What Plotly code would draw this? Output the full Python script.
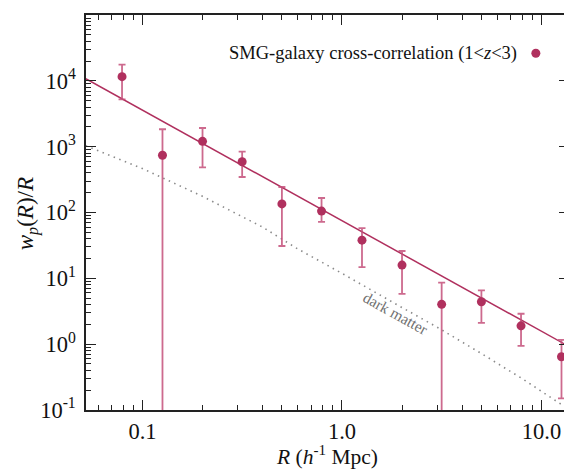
import plotly.graph_objects as go

# Measured cross-correlation
R = [0.079, 0.126, 0.2, 0.316, 0.5, 0.79, 1.26, 2.0, 3.16, 5.0, 7.9, 12.6]
wpR = [11560, 740, 1205, 591, 135, 105, 38, 15.9, 4.03, 4.41, 1.9, 0.644]
wpR_hi = [17600, 1840, 1920, 840, 244, 166, 58, 26, 8.6, 6.58, 2.9, 1.16]
wpR_lo = [5240, 0.001, 485, 346, 31, 72, 14.8, 5.8, 0.001, 2.1, 0.94, 0.15]

# Power-law fit (end points)
fit_R = [0.052, 13.75]
fit_w = [10760, 0.92]

# Dark matter model
dm_R = [0.052, 0.1, 0.2, 0.4, 0.6, 1.0, 2.0, 3.07, 5.0, 8.0, 13.1, 13.75]
dm_w = [1030, 465, 176, 60, 28, 11.9, 3.6, 1.74, 0.72, 0.30, 0.112, 0.102]

y_tickvals = [0.1, 1, 10, 100, 1000, 10000, 100000]
y_ticktext = ["10<sup>-1</sup>", "10<sup>0</sup>", "10<sup>1</sup>", "10<sup>2</sup>",
              "10<sup>3</sup>", "10<sup>4</sup>", "10<sup>5</sup>"]
x_tickvals = [0.1, 1.0, 10.0]
x_ticktext = ["0.1", "1.0", "10.0"]

MAIN = "#B0305E"
ERR = "rgba(196,80,122,0.85)"
FONT = "Liberation Serif"

err_plus = [h - v for h, v in zip(wpR_hi, wpR)]
err_minus = [v - l for v, l in zip(wpR, wpR_lo)]

# page body has an 8px margin: the figure is drawn at (8, 8)
OFF = 8
PL, PT, PW, PH = 86 - OFF, 15 - OFF, 485, 395
W, H = 572 - OFF, 469 - OFF

fig = go.Figure()
fig.add_trace(go.Scatter(x=dm_R, y=dm_w, mode="lines",
                         line=dict(color="#8a8a8a", width=1.6, dash="1.5px,4.5px"),
                         showlegend=False, hoverinfo="skip"))
fig.add_trace(go.Scatter(x=fit_R, y=fit_w, mode="lines",
                         line=dict(color=MAIN, width=1.5),
                         showlegend=False, hoverinfo="skip"))
fig.add_trace(go.Scatter(x=R, y=wpR, mode="markers",
                         marker=dict(color=MAIN, size=9),
                         error_y=dict(type="data", symmetric=False, array=err_plus,
                                      arrayminus=err_minus, color=ERR,
                                      thickness=1.8, width=3.5),
                         showlegend=False))

fig.add_annotation(x=0.271, y=0.47, xref="x", yref="y", text="dark matter",
                   showarrow=False, textangle=29,
                   font=dict(family=FONT, size=15.5, color="#707070"))

fig.add_annotation(x=(521 - 86) / PW, y=(410 - 53.5) / PH, xref="paper", yref="paper",
                   xanchor="right", yanchor="middle",
                   text="SMG-galaxy cross-correlation (1&lt;<i>z</i>&lt;3)",
                   showarrow=False, font=dict(family=FONT, size=18.5, color="#111111"))
fig.add_shape(type="circle", xref="paper", yref="paper",
              xsizemode="pixel", ysizemode="pixel",
              xanchor=(537.7 - 86) / PW, yanchor=(410 - 53.3) / PH,
              x0=-4.5, x1=4.5, y0=-4.5, y1=4.5,
              fillcolor=MAIN, line=dict(width=0))

# y-axis title placed explicitly, centred on the plot height
fig.add_annotation(x=(27 - 86) / PW, y=(410 - 214) / PH, xref="paper", yref="paper",
                   xanchor="center", yanchor="middle", textangle=-90,
                   text="<i>w<sub>p</sub></i>(<i>R</i>)/<i>R</i>",
                   showarrow=False, font=dict(family=FONT, size=23, color="#111111"))

axis_common = dict(showgrid=False, zeroline=False, showline=True, linecolor="#222222",
                   linewidth=1.5, mirror="allticks", ticks="inside", ticklen=10,
                   tickwidth=1.2, tickcolor="#222222",
                   tickfont=dict(family=FONT, size=22.5, color="#111111"))

fig.update_xaxes(type="log", range=[-1.283, 1.138], tickvals=x_tickvals, ticktext=x_ticktext,
                 minor=dict(ticks="inside", ticklen=5, tickwidth=1.2, tickcolor="#222222",
                            dtick="D1"),
                 title=dict(text="<i>R</i> (<i>h</i><sup>-1</sup> Mpc)",
                            font=dict(family=FONT, size=21.5, color="#111111"), standoff=0),
                 **axis_common)
fig.update_yaxes(type="log", range=[-1, 5], tickvals=y_tickvals, ticktext=y_ticktext,
                 minor=dict(ticks="inside", ticklen=5, tickwidth=1.2, tickcolor="#222222",
                            dtick="D1"),
                 ticklabelstandoff=4,
                 **axis_common)

fig.update_layout(width=W, height=H,
                  margin=dict(l=PL, r=W - PL - PW, t=PT, b=H - PT - PH),
                  paper_bgcolor="white", plot_bgcolor="white", showlegend=False)

fig.write_html("out.html")
